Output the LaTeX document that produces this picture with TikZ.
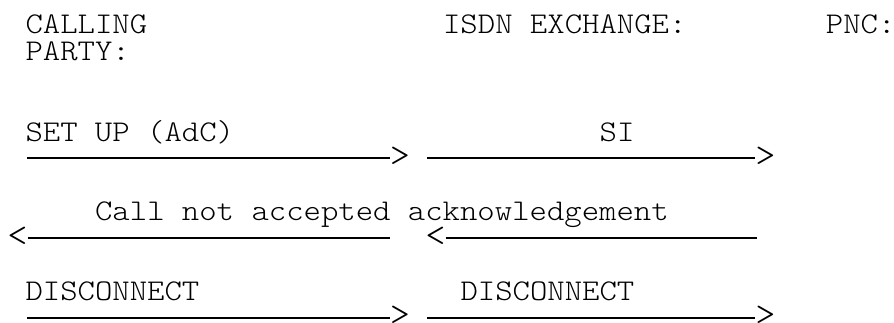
\documentclass[tikz,border=0pt]{standalone}
\usepackage{fontspec}
\setmonofont[FakeStretch=1.1]{lmmonolt10-regular.otf}
\begin{document}
\begin{tikzpicture}[x=1pt,y=1pt,
  lbl/.style={anchor=base west,inner sep=0pt,outer sep=0pt,font=\ttfamily\fontsize{30.1pt}{33pt}\selectfont,text=black},
  tip/.style={anchor=center,inner sep=0pt,outer sep=0pt,font=\ttfamily\fontsize{35pt}{38pt}\selectfont,text=black},
  msg/.style={draw=black,line width=1.5pt}]
\useasboundingbox (0,0) rectangle (894,-322);
% headers
\node[lbl] (calling) at (25.5,-33) {CALLING};
\node[lbl] (party) at (25.5,-60) {PARTY:};
\node[lbl] (isdn) at (443.1,-33) {ISDN EXCHANGE:};
\node[lbl] (pnc) at (825.9,-33) {PNC:};
% row 1
\node[lbl] (setup) at (25.5,-141) {SET UP (AdC)};
\node[lbl] (si) at (599.7,-141) {SI};
\coordinate (s1a) at (27,-158);
\coordinate (s1b) at (427,-158);
\node[tip] (g1a) at (400,-157) {>};
\node[tip] (g1b) at (765.5,-157) {>};
\draw[msg] (s1a) -- (g1a.west |- s1a);
\draw[msg] (s1b) -- (g1b.west |- s1b);
% row 2
\node[lbl] (cna) at (95.1,-220) {Call not accepted acknowledgement};
\node[tip] (g2a) at (17.5,-237) {<};
\node[tip] (g2b) at (435.5,-237) {<};
\coordinate (e2a) at (390,-238);
\coordinate (e2b) at (757,-238);
\draw[msg] (g2a.east |- e2a) -- (e2a);
\draw[msg] (g2b.east |- e2b) -- (e2b);
% row 3
\node[lbl] (disc1) at (25.5,-300) {DISCONNECT};
\node[lbl] (disc2) at (460.5,-300) {DISCONNECT};
\coordinate (s3a) at (27,-318);
\coordinate (s3b) at (427,-318);
\node[tip] (g3a) at (400,-316) {>};
\node[tip] (g3b) at (765.5,-316) {>};
\draw[msg] (s3a) -- (g3a.west |- s3a);
\draw[msg] (s3b) -- (g3b.west |- s3b);
\end{tikzpicture}
\end{document}
